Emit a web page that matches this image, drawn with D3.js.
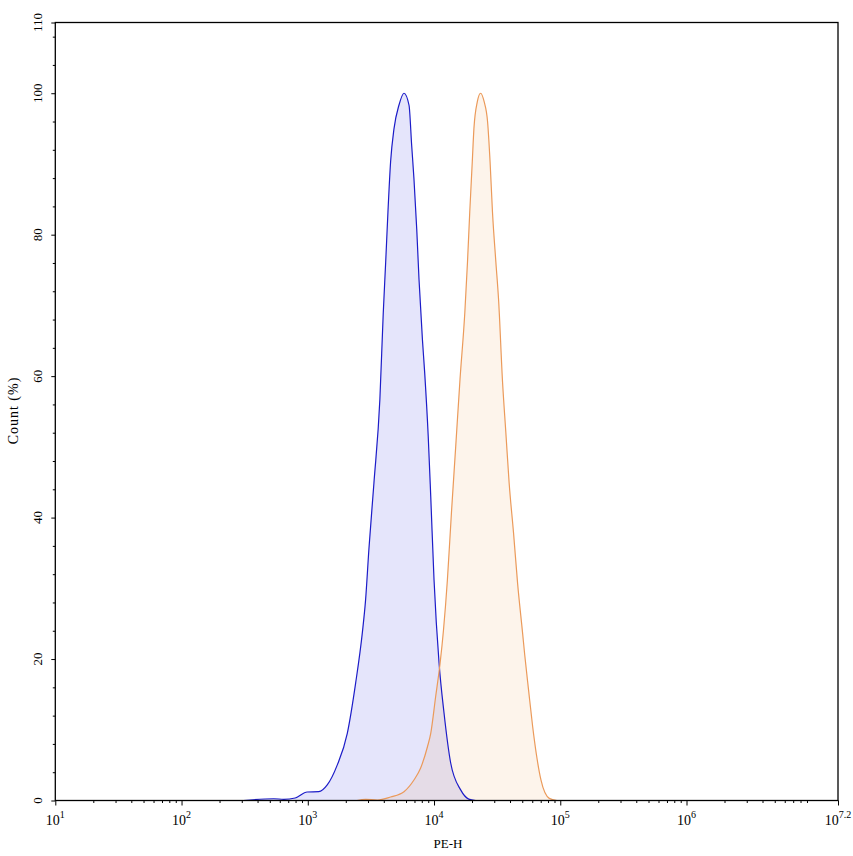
<!DOCTYPE html>
<html><head><meta charset="utf-8">
<script src="https://cdn.jsdelivr.net/npm/d3@7"></script>
<style>body{margin:0;background:#fff}svg{display:block}</style>
</head><body>
<script>
// log10(PE-H) positions and Count (%) values
const blueX = [2.49,2.73,2.81,2.90,2.995,3.087,3.154,3.233,3.313,3.379,3.432,3.458,3.484,3.524,3.571,3.598,3.617,3.635,3.656,3.683,3.722,3.762,3.802,3.823,3.841,3.863,3.881,3.908,3.926,3.954,3.974,4.000,4.040,4.079,4.132,4.211,4.275,4.330];
const blueY = [0,0.25,0.17,0.35,1.2,1.25,2.2,5.0,9.5,16.6,23.7,28.4,35.5,44.9,56.7,69,76.1,83.2,90.3,95,98.3,100,98.3,92.6,87.9,80.8,73.7,65.2,60.5,51.5,43,31.2,19.4,12.4,5.3,1.5,0.2,0];
const orangeX = [3.39,3.458,3.551,3.656,3.762,3.841,3.894,3.948,3.974,4.013,4.048,4.075,4.106,4.138,4.172,4.206,4.244,4.265,4.283,4.303,4.316,4.343,4.369,4.397,4.424,4.444,4.463,4.490,4.511,4.543,4.569,4.595,4.630,4.662,4.702,4.719,4.749,4.781,4.811,4.847,4.913,4.974];
const orangeY = [0,0.17,0.07,0.5,1.25,2.9,4.6,7.6,9.5,14.7,19.4,24.1,31.2,40.7,50.1,59.6,69,76.1,83.2,90.3,95,98.8,100,98.8,96,90.3,83.2,76.1,70.9,59.1,52,44.9,37.8,30.7,23.6,20.5,15.6,10.5,6.5,2.9,0.3,0];
const xMajorExps = [1,2,3,4,5,6];
const xLastExp = "7.2";
const yMajorTicks = [0,20,40,60,80,100,110];
const xTitle = "PE-H";
const yTitle = "Count (%)";

const W = 853, H = 856;
const m = {l:55.3, r:838, t:22.5, b:800.5};
const svg = d3.select("body").append("svg").attr("width",W).attr("height",H);
const x = d3.scaleLog().domain([10, Math.pow(10,7.2)]).range([m.l, m.r]);
const y = d3.scaleLinear().domain([0,110]).range([m.b, m.t]);
const font = "'Liberation Serif','Times New Roman',serif";

function series(xs, ys){ return xs.map((v,i)=>[Math.pow(10,v), ys[i]]); }
const area = d3.area().x(d=>x(d[0])).y0(y(0)).y1(d=>y(d[1])).curve(d3.curveMonotoneX);
const line = d3.line().x(d=>x(d[0])).y(d=>y(d[1])).curve(d3.curveMonotoneX);

const B = series(blueX, blueY), O = series(orangeX, orangeY);
svg.append("path").datum(B).attr("d",area).attr("fill","rgb(0,0,220)").attr("fill-opacity",0.1);
svg.append("path").datum(O).attr("d",area).attr("fill","rgb(235,150,60)").attr("fill-opacity",0.1);
svg.append("path").datum(B).attr("d",line).attr("fill","none").attr("stroke","#1c1cc8").attr("stroke-width",1.2);
svg.append("path").datum(O).attr("d",line).attr("fill","none").attr("stroke","#eb9a5a").attr("stroke-width",1.2);

// frame
svg.append("rect").attr("x",m.l).attr("y",m.t).attr("width",m.r-m.l).attr("height",m.b-m.t)
  .attr("fill","none").attr("stroke","#000").attr("stroke-width",1.3);

// x axis ticks
const minorX = [];
for (let e=1;e<=7;e++) for (let k=2;k<=9;k++){ const v=k*Math.pow(10,e); if (v<=Math.pow(10,7.2)) minorX.push(v); }
const majorX = xMajorExps.map(e=>Math.pow(10,e)).concat([Math.pow(10,7.2)]);
const gx = svg.append("g").attr("transform",`translate(0,${m.b})`);
gx.call(d3.axisBottom(x).tickValues(majorX).tickSize(5).tickFormat("")).call(g=>g.select(".domain").remove());
gx.append("g").call(d3.axisBottom(x).tickValues(minorX).tickSize(2.5).tickFormat("")).call(g=>g.select(".domain").remove());
gx.selectAll("line").attr("stroke","#000");
const labels = xMajorExps.map(String).concat([xLastExp]);
majorX.forEach((v,i)=>{
  const t = svg.append("text").attr("x",x(v)).attr("y",824.5).attr("text-anchor","middle")
    .attr("font-family",font).attr("font-size",14).attr("fill","#000");
  t.append("tspan").text("10");
  t.append("tspan").attr("dy",-7).attr("font-size",10).text(labels[i]);
});

// y axis ticks
const minorY = d3.range(0,111,4).filter(v=>v%20!==0);
const gy = svg.append("g").attr("transform",`translate(${m.l},0)`);
gy.call(d3.axisLeft(y).tickValues(yMajorTicks).tickSize(4).tickFormat("")).call(g=>g.select(".domain").remove());
gy.append("g").call(d3.axisLeft(y).tickValues(minorY).tickSize(2.5).tickFormat("")).call(g=>g.select(".domain").remove());
gy.selectAll("line").attr("stroke","#000");
yMajorTicks.forEach(v=>{
  svg.append("text").attr("transform",`translate(42,${y(v)}) rotate(-90)`).attr("text-anchor","middle")
    .attr("font-family",font).attr("font-size",13).attr("fill","#000").text(v);
});

svg.append("text").attr("x",448).attr("y",848).attr("text-anchor","middle")
  .attr("font-family",font).attr("font-size",13).text(xTitle);
svg.append("text").attr("transform","translate(18,410.5) rotate(-90)").attr("text-anchor","middle")
  .attr("font-family",font).attr("font-size",14).attr("letter-spacing",1).text(yTitle);
</script>
</body></html>
